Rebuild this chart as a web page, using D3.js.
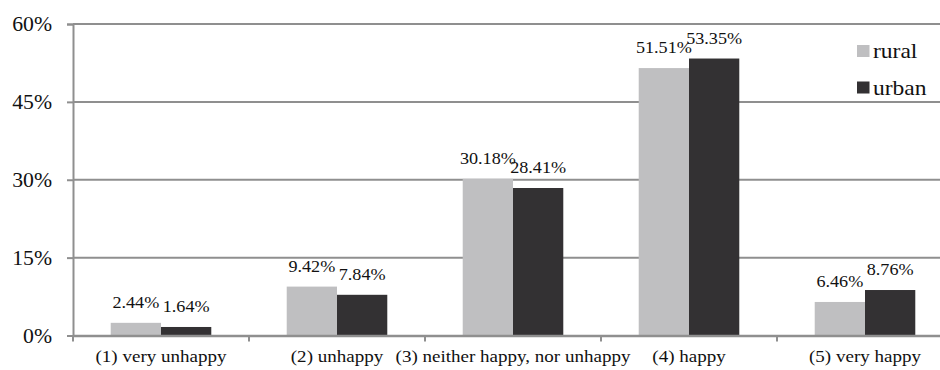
<!DOCTYPE html>
<html>
<head>
<meta charset="utf-8">
<script src="https://cdn.jsdelivr.net/npm/d3@7"></script>
<style>
  html, body { margin: 0; padding: 0; background: #fff; overflow: hidden; }
  svg { display: block; }
  text { font-family: "Liberation Serif", "Times New Roman", serif; fill: #111; }
</style>
</head>
<body>
<svg id="chart" width="940" height="370"></svg>
<script>
// Happiness level by residence (share of respondents, %)
const categories = ["(1) very unhappy", "(2) unhappy", "(3) neither happy, nor unhappy", "(4) happy", "(5) very happy"];
const seriesNames = ["rural", "urban"];
const rural = [2.44, 9.42, 30.18, 51.51, 6.46];
const urban = [1.64, 7.84, 28.41, 53.35, 8.76];
const yTicks = [0, 15, 30, 45, 60];
const colors = { rural: "#bfbfc1", urban: "#333133" };

const svg = d3.select("#chart");
const left = 73, step = 176;
const x0 = d3.scaleBand().domain(categories).range([left, left + step * categories.length]);
const barW = x0.step() / 3.5;
const x1 = d3.scaleBand().domain(seriesNames).range([0, barW * 2]);
const y = d3.scaleLinear().domain([0, 60]).range([335.5, 24]);

const rows = categories.map((c, i) => ({ cat: c, rural: rural[i], urban: urban[i] }));

// horizontal gridlines
svg.append("g").selectAll("line").data(yTicks.filter(t => t > 0)).join("line")
  .attr("x1", left).attr("x2", 940)
  .attr("y1", d => y(d)).attr("y2", d => y(d))
  .attr("stroke", "#8f8f8f").attr("stroke-width", 2);

// y axis
const yAxis = svg.append("g").attr("transform", `translate(${left},0)`)
  .call(d3.axisLeft(y).tickValues(yTicks).tickSize(6).tickFormat(d => d + "%"));
yAxis.select(".domain").attr("stroke", "#8f8f8f").attr("stroke-width", 2);
yAxis.selectAll(".tick line").attr("stroke", "#8f8f8f").attr("stroke-width", 2);
yAxis.selectAll(".tick text").remove();
svg.append("g").selectAll("text").data(yTicks).join("text")
  .attr("transform", d => `translate(52,${y(d) + 7.2}) scale(1.06,1)`)
  .attr("text-anchor", "end").attr("font-size", 20.5)
  .text(d => d + "%");

// bars
const groups = svg.append("g").selectAll("g").data(rows).join("g")
  .attr("transform", d => `translate(${x0(d.cat) + (x0.step() - barW * 2) / 2},0)`);
groups.selectAll("rect").data(d => seriesNames.map(s => ({ s, v: d[s] }))).join("rect")
  .attr("x", d => x1(d.s)).attr("width", x1.bandwidth())
  .attr("y", d => y(d.v)).attr("height", d => y(0) - y(d.v))
  .attr("fill", d => colors[d.s]);
groups.selectAll("text").data(d => seriesNames.map(s => ({ s, v: d[s] }))).join("text")
  .attr("transform", d => `translate(${x1(d.s) + x1.bandwidth() / 2},${y(d.v) - 15}) scale(1.1,1)`)
  .attr("text-anchor", "middle").attr("font-size", 16.5)
  .text(d => d.v.toFixed(2) + "%");

// x axis
const xAxis = svg.append("g").attr("transform", `translate(0,${y(0)})`)
  .call(d3.axisBottom(x0).tickSize(0).tickFormat(""));
xAxis.select(".domain").attr("stroke", "#8f8f8f").attr("stroke-width", 2.5);
xAxis.selectAll(".tick").remove();
svg.append("g").selectAll("line").data(d3.range(categories.length + 1)).join("line")
  .attr("x1", i => left + i * x0.step()).attr("x2", i => left + i * x0.step())
  .attr("y1", y(0)).attr("y2", y(0) + 6)
  .attr("stroke", "#8f8f8f").attr("stroke-width", 2);
svg.append("g").selectAll("text").data(categories).join("text")
  .attr("transform", d => `translate(${x0(d) + x0.bandwidth() / 2},362) scale(1.12,1)`)
  .attr("text-anchor", "middle").attr("font-size", 17)
  .text(d => d);

// legend
const legend = svg.append("g").selectAll("g").data(seriesNames).join("g")
  .attr("transform", (d, i) => `translate(857,${45 + i * 36.5})`);
legend.append("rect").attr("width", 12.5).attr("height", 12)
  .attr("fill", d => colors[d]);
legend.append("text")
  .attr("transform", "translate(16,13.3) scale(1.07,1)")
  .attr("font-size", 22)
  .text(d => d);
</script>
</body>
</html>
